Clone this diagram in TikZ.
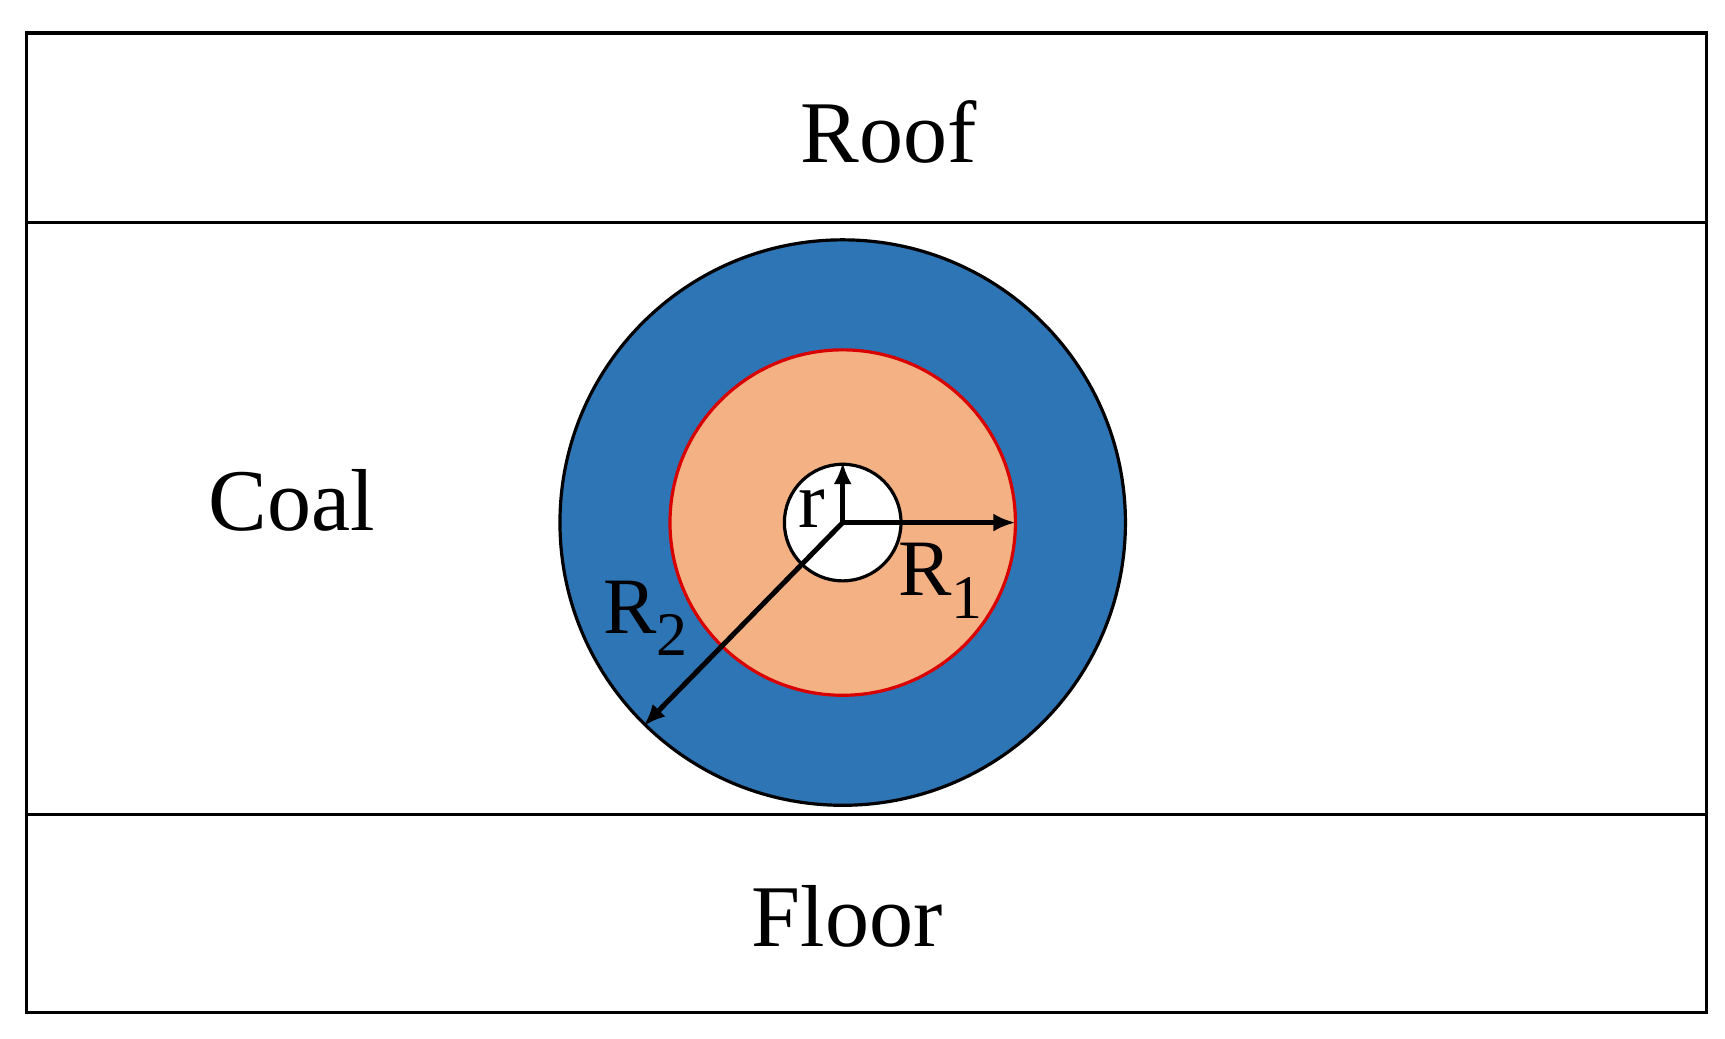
\documentclass[tikz,border=0pt]{standalone}
\usepackage{fontspec}
\setmainfont{Liberation Serif}
\usetikzlibrary{arrows.meta}
\definecolor{blu}{RGB}{46,117,182}
\definecolor{pch}{RGB}{244,177,131}
\newcommand{\mysub}[1]{\raisebox{-0.28em}{\fontsize{62}{62}\selectfont #1}}
\begin{document}
\begin{tikzpicture}[x=1.1pt,y=-1.1pt,
  big/.style={font=\fontsize{88}{100}\selectfont},
  mid/.style={font=\fontsize{80}{90}\selectfont},
  ln/.style={line width=3.2pt},
  arr/.style={line width=5pt,-{Latex[length=22pt,width=18pt]}}]
\useasboundingbox (0,0) rectangle (1568,944);
\draw[ln] (24,30) rectangle (1551,920);
\draw[ln] (24,202) -- (1551,202);
\draw[ln] (24,740) -- (1551,740);
\coordinate (c) at (766,475);
\fill[blu,draw=black,ln] (c) circle[radius=257*1.1pt];
\fill[pch,draw=red!85!black,ln] (c) circle[radius=157*1.1pt];
\fill[white,draw=black,ln] (c) circle[radius=53*1.1pt];
\coordinate (a1) at (923,475);
\coordinate (a2) at (766,420);
\coordinate (a3) at (585,660);
\draw[arr] (c) -- (a1);
\draw[arr] (c) -- (a2);
\draw[arr] (c) -- (a3);
\node[big] (roof) at (808,120) {Roof};
\node[big] (coal) at (265,455) {Coal};
\node[big] (floor) at (770,833) {Floor};
\node[mid] (r) at (738,462) {r};
\node[mid] (R1) at (855,528) {R\mysub{1}};
\node[mid] (R2) at (587,562) {R\mysub{2}};
\end{tikzpicture}
\end{document}
